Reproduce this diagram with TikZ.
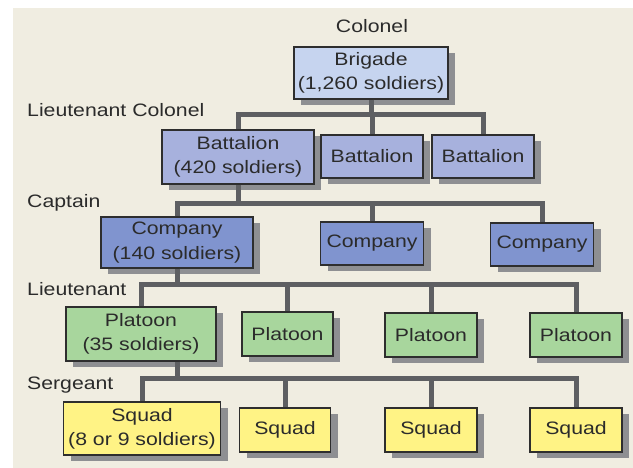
\documentclass[tikz,border=0pt]{standalone}
\usepackage{fontspec}
\setmainfont{Liberation Sans}[FakeStretch=1.18]
\usetikzlibrary{shadows,calc}
\definecolor{bgc}{HTML}{F0EDE1}
\definecolor{brigc}{HTML}{C6D4EF}
\definecolor{battc}{HTML}{A7B1DD}
\definecolor{compc}{HTML}{8094CF}
\definecolor{platc}{HTML}{A8D69D}
\definecolor{squadc}{HTML}{FFF385}
\definecolor{linec}{HTML}{5E5F62}
\definecolor{shadowc}{HTML}{8E8F92}
\definecolor{boxline}{HTML}{2E2E2E}
\definecolor{txt}{HTML}{2B2B2B}
\begin{document}
\begin{tikzpicture}[x=1pt,y=-1pt,
  box/.style={draw=boxline, line width=1.3pt, inner sep=0pt, align=center, text=txt,
    font=\fontsize{18}{24.3}\selectfont,
    drop shadow={shadow xshift=7pt,shadow yshift=-6pt,fill=shadowc,opacity=1}},
  sz/.style 2 args={minimum width=#1pt, minimum height=#2pt},
  bar/.style={draw=linec, line width=5pt},
  lvl/.style={text=txt, font=\fontsize{18}{24.3}\selectfont, inner sep=0pt}]
\useasboundingbox (0,0) rectangle (633,468);
\fill[bgc] (13,8) rectangle (633,468);

\coordinate (y1) at (0,115);
\coordinate (y2) at (0,204);
\coordinate (y3) at (0,285);
\coordinate (y4) at (0,379);

\node[box,sz={154}{52},fill=brigc] (brig) at (371,73) {Brigade\\(1,260 soldiers)};
\node[box,sz={152}{54},fill=battc] (b1) at (238,157) {Battalion\\(420 soldiers)};
\node[box,sz={102}{43},fill=battc] (b2) at (372,156.5) {Battalion};
\node[box,sz={102}{43},fill=battc] (b3) at (483,156.5) {Battalion};
\node[box,sz={152}{51},fill=compc] (c1) at (177,242.5) {Company\\(140 soldiers)};
\node[box,sz={103}{43},fill=compc] (c2) at (372,243.5) {Company};
\node[box,sz={103}{43},fill=compc] (c3) at (542,244.5) {Company};
\node[box,sz={150}{54},fill=platc] (p1) at (141,334) {Platoon\\(35 soldiers)};
\node[box,sz={91}{44},fill=platc] (p2) at (287.5,334) {Platoon};
\node[box,sz={92}{44},fill=platc] (p3) at (431,335) {Platoon};
\node[box,sz={92}{44},fill=platc] (p4) at (576,335) {Platoon};
\node[box,sz={157}{53},fill=squadc] (s1) at (142,428.5) {Squad\\(8 or 9 soldiers)};
\node[box,sz={91}{44},fill=squadc] (s2) at (285,430) {Squad};
\node[box,sz={92}{44},fill=squadc] (s3) at (431,430) {Squad};
\node[box,sz={92}{44},fill=squadc] (s4) at (576,430) {Squad};

% level 1
\draw[bar] (brig.south) -- (brig.south |- y1);
\draw[bar] (b1.north) -- (b1.north |- y1) -- (b3.north |- y1) -- (b3.north);
\draw[bar] (b2.north) -- (b2.north |- y1);
% level 2
\draw[bar] (b1.south) -- (b1.south |- y2);
\draw[bar] (c1.north) -- (c1.north |- y2) -- (c3.north |- y2) -- (c3.north);
\draw[bar] (c2.north) -- (c2.north |- y2);
% level 3
\draw[bar] (c1.south) -- (c1.south |- y3);
\draw[bar] (p1.north) -- (p1.north |- y3) -- (p4.north |- y3) -- (p4.north);
\draw[bar] (p2.north) -- (p2.north |- y3);
\draw[bar] (p3.north) -- (p3.north |- y3);
% level 4
\draw[bar] ([xshift=36pt]p1.south) -- ([xshift=36pt]p1.south |- y4);
\draw[bar] (s1.north) -- (s1.north |- y4) -- (s4.north |- y4) -- (s4.north);
\draw[bar] (s2.north) -- (s2.north |- y4);
\draw[bar] (s3.north) -- (s3.north |- y4);

\node[lvl, anchor=base] (lcol) at (372,33) {Colonel};
\node[lvl, anchor=base west] (lltc) at (27,117) {Lieutenant Colonel};
\node[lvl, anchor=base west] (lcap) at (27,208) {Captain};
\node[lvl, anchor=base west] (llt) at (27,296) {Lieutenant};
\node[lvl, anchor=base west] (lsgt) at (27,389) {Sergeant};
\end{tikzpicture}
\end{document}
